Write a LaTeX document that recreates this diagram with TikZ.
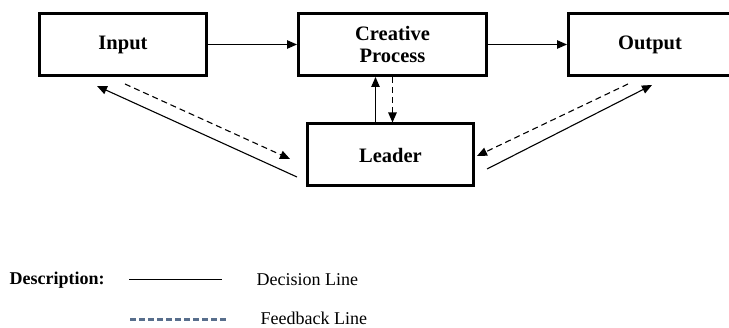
\documentclass[tikz,border=0pt]{standalone}
\usepackage{fontspec}
\setmainfont{Liberation Serif}
\usepackage{tikz}
\usetikzlibrary{arrows.meta,positioning}
\definecolor{feedbackblue}{RGB}{88,110,140}
\tikzset{
  stage/.style={draw, line width=3pt, minimum width=167pt, minimum height=62pt,
    font=\fontsize{20.5}{21}\selectfont\bfseries, align=center},
  decision/.style={line width=1.1pt, -{Triangle[length=10pt,width=8.5pt]}},
  feedback/.style={line width=1.1pt, dash pattern=on 6pt off 4pt, -{Triangle[length=10pt,width=8.5pt]}},
  legendtext/.style={anchor=west, font=\fontsize{18}{20}\selectfont}
}
\begin{document}
\begin{tikzpicture}[x=1pt,y=1pt]
		\useasboundingbox (0,0) rectangle (729,-328);
		% Define nodes
		\node[stage] (input) at (123,-44.5) {Input};
		\node[stage, minimum width=188pt] (process) at (392.5,-44.5) {Creative\\[1pt]Process};
		\node[stage, minimum width=163pt] (output) at (650,-44.5) {Output};
		\node[stage, minimum width=166pt] (leader) at (390.5,-155) {Leader};
		
		% Connect the nodes
		\draw[decision] (input) -- (process);
		\draw[decision] (process) -- (output);
		\draw[decision] ([xshift=-15pt]leader.north) -- ([xshift=-15pt]leader.north |- process.south);
		\draw[feedback] (process.south) -- (process.south |- leader.north);
		\draw[decision] ([xshift=-9pt,yshift=-22pt]leader.west) -- ([xshift=-26pt,yshift=-9pt]input.south);
		\draw[feedback] ([xshift=2pt,yshift=-7pt]input.south) -- ([xshift=-16pt,yshift=-4pt]leader.west);
		\draw[feedback] ([xshift=-22pt,yshift=-7pt]output.south) -- ([xshift=2pt,yshift=-1pt]leader.east);
		\draw[decision] ([xshift=12pt,yshift=-14pt]leader.east) -- ([xshift=2pt,yshift=-8pt]output.south);
		
		% Legend
		\node[legendtext, font=\fontsize{18}{20}\selectfont\bfseries] (desc) at (6,-280) {Description:};
		\coordinate (solidA) at (129,-280);
		\coordinate (solidB) at (222,-280);
		\draw[line width=1pt] (solidA) -- (solidB);
		\node[legendtext] (declabel) at (253,-280) {Decision Line};
		\coordinate (dashA) at (130,-320);
		\coordinate (dashB) at (228,-320);
		\draw[feedbackblue, line width=3pt, dash pattern=on 6pt off 3pt] (dashA) -- (dashB);
		\node[legendtext] (fblabel) at (257,-318) {Feedback Line};
	\end{tikzpicture}
\end{document}
